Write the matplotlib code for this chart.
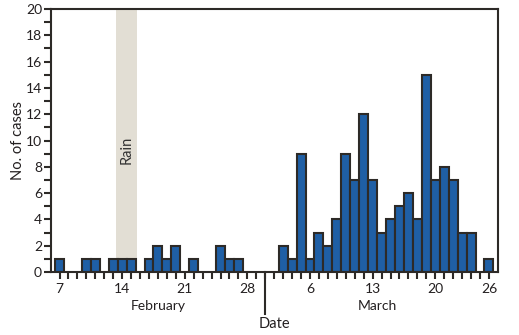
import numpy as np
import matplotlib.pyplot as plt
from matplotlib.ticker import MultipleLocator

plt.rcParams['font.family'] = ['Lato', 'DejaVu Sans']

# daily case counts, Feb 7 - Feb 29 and Mar 1 - Mar 26
feb_days = list(range(7, 30))
feb_cases = [1, 0, 0, 1, 1, 0, 1, 1, 1, 0, 1, 2, 1, 2, 0, 1, 0, 0, 2, 1, 1, 0, 0]
mar_days = list(range(1, 27))
mar_cases = [0, 0, 2, 1, 9, 1, 3, 2, 4, 9, 7, 12, 7, 3, 4, 5, 6, 4, 15, 7, 8, 7, 3, 3, 0, 1]

feb_labels = [7, 14, 21, 28]
mar_labels = [6, 13, 20, 26]
rain_start, rain_end = 13.3, 15.7   # Feb, days with rain

ink = '#2d2a27'
blue = '#1f5fa5'

days = feb_days + mar_days
cases = np.array(feb_cases + mar_cases)
x = np.arange(len(days))
n_feb = len(feb_days)

fig = plt.figure(figsize=(5.19, 3.35), dpi=100)
ax = fig.add_axes([0.0983, 0.188, 0.861, 0.785])

# rain band behind the bars
ax.axvspan(rain_start - feb_days[0], rain_end - feb_days[0], color='#e2ded4', lw=0, zorder=0)
ax.text((rain_start + rain_end) / 2 - feb_days[0], 9.3, 'Rain', rotation=90,
        ha='center', va='center', fontsize=10.5, color='#333333', zorder=1)

nz = cases > 0
ax.bar(x[nz], cases[nz], width=1.0, color=blue, edgecolor=ink, linewidth=1.5, zorder=2)

ax.set_xlim(-0.95, 49)
ax.set_ylim(0, 20)

ax.yaxis.set_major_locator(MultipleLocator(2))
ax.yaxis.set_minor_locator(MultipleLocator(1))
ax.tick_params(axis='y', which='both', direction='out', length=5, width=1.5,
               color=ink, labelsize=10, pad=1.5, labelcolor='#231f20')

tick_labels = []
for i, d in enumerate(days):
    labels = feb_labels if i < n_feb else mar_labels
    tick_labels.append(str(d) if d in labels else '')
ax.set_xticks(x)
ax.set_xticklabels(tick_labels)
ax.tick_params(axis='x', direction='out', length=5, width=1.5, color=ink,
               labelsize=10, pad=3, labelcolor='#231f20')

for s in ax.spines.values():
    s.set_linewidth(1.5)
    s.set_color(ink)

# long tick separating the months
ax.axvline(n_feb, ymin=-0.158, ymax=0, color=ink, lw=1.5, clip_on=False)

tr = ax.get_xaxis_transform()
ax.text((n_feb - 1) / 2, -0.128, 'February', transform=tr, ha='center', va='center',
        fontsize=10, color='#231f20')
ax.text(n_feb + (len(mar_days) - 1) / 2, -0.128, 'March', transform=tr, ha='center',
        va='center', fontsize=10, color='#231f20')
ax.text(0.5, -0.198, 'Date', transform=ax.transAxes, ha='center', va='center',
        fontsize=10.5, color='#231f20')

ax.set_ylabel('No. of cases', fontsize=10.5, color='#231f20', labelpad=0.5)

fig.savefig('out.png', dpi=100)
